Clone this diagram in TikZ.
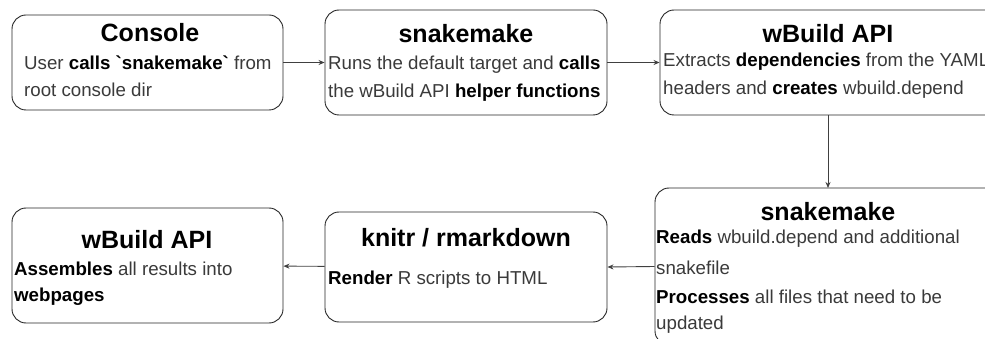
\documentclass[tikz,border=0pt]{standalone}
\usepackage{fontspec}
\setmainfont{Liberation Sans}
\usetikzlibrary{arrows.meta}
\definecolor{bodytxt}{HTML}{3A3A3A}
\tikzset{
  box/.style={draw=black!85, line width=0.9pt, rounded corners=14pt, inner sep=0pt, fill=white},
  ttl/.style={font=\fontsize{25}{28}\selectfont\bfseries, text=black, inner sep=0pt},
  body/.style={font=\fontsize{18.7}{21}\selectfont, text=bodytxt, anchor=west, inner sep=0pt},
  conn/.style={draw=black!75, line width=0.9pt, -{Stealth[length=6pt,width=5pt]}}
}
\begin{document}
\begin{tikzpicture}[x=1pt,y=-1pt]
\useasboundingbox (0,0) rectangle (985,339);
\clip (0,0) rectangle (985,339);
% boxes
\node[box, minimum width=271, minimum height=95] (b1) at (147.5,62.5) {};
\node[box, minimum width=282, minimum height=105] (b2) at (466,62.5) {};
\node[box, minimum width=340, minimum height=105] (b3) at (830,62.5) {};
\node[box, minimum width=345, minimum height=157] (b4) at (827.5,266.5) {};
\node[box, minimum width=282, minimum height=110] (b6) at (466,267) {};
\node[box, minimum width=271, minimum height=115] (b5) at (147.5,265.5) {};
% texts box1
\node[ttl] (t1) at (150,33) {Console};
\node[body] (t1a) at (24,63) {User \textcolor{black}{\bfseries calls \textasciigrave snakemake\textasciigrave} from};
\node[body] (t1b) at (24,90) {root console dir};
% box2
\node[ttl] (t2) at (466,34) {snakemake};
\node[body] (t2a) at (328,65) {Runs the default target and \textcolor{black}{\bfseries calls}};
\node[body] (t2b) at (328,93) {the wBuild API \textcolor{black}{\bfseries helper functions}};
% box3
\node[ttl] (t3) at (828,34) {wBuild API};
\node[body] (t3a) at (663,62) {Extracts \textcolor{black}{\bfseries dependencies} from the YAML};
\node[body] (t3b) at (663,90) {headers and \textcolor{black}{\bfseries creates} wbuild.depend};
% box4
\node[ttl] (t4) at (828,212) {snakemake};
\node[body] (t4a) at (656,239) {\textcolor{black}{\bfseries Reads} wbuild.depend and additional};
\node[body] (t4b) at (656,268) {snakefile};
\node[body] (t4c) at (656,297) {\textcolor{black}{\bfseries Processes} all files that need to be};
\node[body] (t4d) at (656,325) {updated};
% box6
\node[ttl] (t6) at (466,238) {knitr / rmarkdown};
\node[body] (t6a) at (328,280) {\textcolor{black}{\bfseries Render} R scripts to HTML};
% box5
\node[ttl] (t5) at (147,240) {wBuild API};
\node[body] (t5a) at (14,269) {\textcolor{black}{\bfseries Assembles} all results into};
\node[body] (t5b) at (14,297) {\textcolor{black}{\bfseries webpages}};
% connectors
\draw[conn] (b1) -- (b2);
\draw[conn] (b2) -- (b3);
\draw[conn] (b3.south -| 828,0) -- (828,188);
\draw[conn] (b4.west) -- (b6.east);
\draw[conn] (b6) -- (b5);
\end{tikzpicture}
\end{document}
